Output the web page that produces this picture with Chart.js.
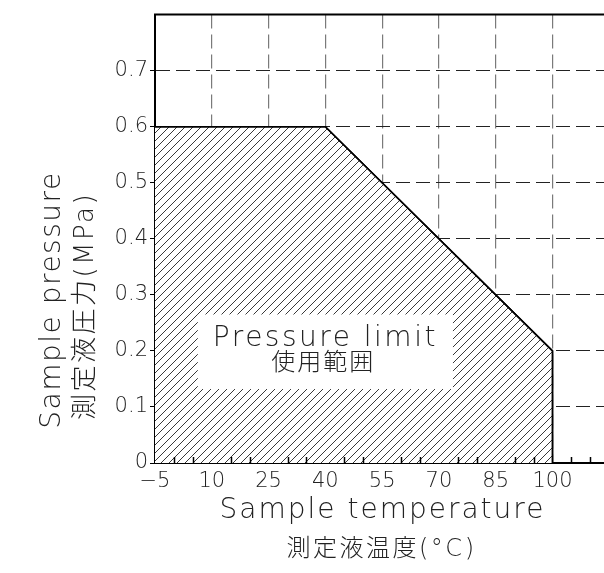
<!DOCTYPE html>
<html>
<head>
<meta charset="utf-8">
<script src="https://cdn.jsdelivr.net/npm/chart.js@4.4.1/dist/chart.umd.min.js"></script>
<style>
    html, body { margin: 0; padding: 0; background: #fff; overflow: hidden; }
    #wrap { width: 604px; height: 573px; }
</style>
</head>
<body>
<div id="wrap"><canvas id="limit-chart" width="604" height="573"></canvas></div>
<script>
// Pressure limit envelope (temperature °C -> pressure MPa)
const limitTemp = [-5, 40, 100, 100];
const limitPressure = [0.6, 0.6, 0.2, 0];

const xTicks = [-5, 10, 25, 40, 55, 70, 85, 100];
const xTickLabels = ["\u22125", "10", "25", "40", "55", "70", "85", "100"];
const xMinorTicks = [0, 5, 15, 20, 30, 35, 45, 50, 60, 65, 75, 80, 90, 95, 105, 110];
const yTicks = [0, 0.1, 0.2, 0.3, 0.4, 0.5, 0.6, 0.7];
const yTickLabels = ["0", "0.1", "0.2", "0.3", "0.4", "0.5", "0.6", "0.7"];

// white label box, in data units
const labelBox = { xMin: 6.3, xMax: 73.7, yMin: 0.132, yMax: 0.265 };

const LATIN = '"DejaVu Sans", sans-serif';
const MIXED = '"DejaVu Sans", "Noto Sans CJK JP", sans-serif';
const TEXT_COLOR = "#222";

function makeHatch() {
    const n = 8;
    const p = document.createElement("canvas");
    p.width = n;
    p.height = n;
    const g = p.getContext("2d");
    g.fillStyle = "#fff";
    g.fillRect(0, 0, n, n);
    g.strokeStyle = "#222";
    g.lineWidth = 0.9;
    g.beginPath();
    g.moveTo(0, n); g.lineTo(n, 0);
    g.moveTo(-1, 1); g.lineTo(1, -1);
    g.moveTo(n - 1, n + 1); g.lineTo(n + 1, n - 1);
    g.stroke();
    return g.createPattern(p, "repeat");
}

function drawText(ctx, text, x, y, font, spacing, baseline, rotate) {
    ctx.save();
    ctx.translate(x, y);
    if (rotate) ctx.rotate(-Math.PI / 2);
    ctx.font = font;
    ctx.letterSpacing = spacing + "px";
    ctx.fillStyle = TEXT_COLOR;
    ctx.textAlign = "center";
    ctx.textBaseline = baseline;
    ctx.fillText(text, 0, 0);
    ctx.restore();
}

const extras = {
    id: "extras",
    afterDraw(chart) {
        const ctx = chart.ctx;
        const xs = chart.scales.x;
        const ys = chart.scales.y;
        const area = chart.chartArea;

        // label box covering hatch and grid
        const bx0 = xs.getPixelForValue(labelBox.xMin);
        const bx1 = xs.getPixelForValue(labelBox.xMax);
        const by0 = ys.getPixelForValue(labelBox.yMax);
        const by1 = ys.getPixelForValue(labelBox.yMin);
        ctx.save();
        ctx.fillStyle = "#fff";
        ctx.fillRect(bx0, by0, bx1 - bx0, by1 - by0);
        ctx.restore();
        const bcx = (bx0 + bx1) / 2;
        drawText(ctx, "Pressure limit", bcx, by0 + 32, "200 28px " + LATIN, 2.5, "alphabetic");
        drawText(ctx, "使用範囲", bcx - 2, by0 + 49, "200 24px " + MIXED, 2, "middle");

        // outline on top of the grid
        chart.getDatasetMeta(0).dataset.draw(ctx, area);

        // minor ticks pointing inward on the bottom axis
        ctx.save();
        ctx.strokeStyle = "#000";
        ctx.lineWidth = 1.5;
        ctx.beginPath();
        xMinorTicks.forEach(v => {
            const px = Math.round(xs.getPixelForValue(v)) + 0.5;
            ctx.moveTo(px, area.bottom);
            ctx.lineTo(px, area.bottom - 6);
        });
        ctx.stroke();

        // top frame line
        ctx.lineWidth = 2;
        ctx.beginPath();
        ctx.moveTo(area.left - 1, area.top);
        ctx.lineTo(area.right, area.top);
        ctx.stroke();
        ctx.restore();

        // axis titles
        const cx = (area.left + area.right) / 2;
        drawText(ctx, "Sample temperature", cx + 3, 518, "200 28px " + LATIN, 2, "alphabetic");
        drawText(ctx, "測定液温度(°C)", cx + 2, 550, "200 24px " + MIXED, 2.5, "middle");
        drawText(ctx, "Sample pressure", 60, 300, "200 28px " + LATIN, 1.5, "alphabetic", true);
        drawText(ctx, "測定液圧力(MPa)", 86, 306, "200 26px " + MIXED, 2.5, "middle", true);
    },
};

function buildChart() {
    const ctx = document.getElementById("limit-chart").getContext("2d");
    const points = limitTemp.map((t, i) => ({ x: t, y: limitPressure[i] }));

    new Chart(ctx, {
        type: "line",
        data: {
            datasets: [
                {
                    data: points,
                    borderColor: "#000",
                    borderWidth: 1.5,
                    backgroundColor: makeHatch(),
                    fill: "origin",
                    pointRadius: 0,
                    tension: 0,
                },
            ],
        },
        options: {
            responsive: false,
            animation: false,
            devicePixelRatio: 1,
            layout: { padding: { top: 10, right: 0, bottom: 0, left: 0 } },
            plugins: {
                legend: { display: false },
                tooltip: { enabled: false },
            },
            scales: {
                x: {
                    type: "linear",
                    min: -5,
                    max: 113.6,
                    z: 1,
                    afterBuildTicks: s => { s.ticks = xTicks.map(v => ({ value: v })); },
                    afterFit: s => { s.height = 110; },
                    ticks: {
                        autoSkip: false,
                        maxRotation: 0,
                        padding: 6,
                        color: TEXT_COLOR,
                        font: { family: LATIN, size: 21, weight: 200 },
                        callback: (v, i) => xTickLabels[i],
                    },
                    grid: {
                        color: c => (c.tick && c.tick.value === -5 ? "rgba(0,0,0,0)" : "#7a7a7a"),
                        lineWidth: 1.2,
                        drawTicks: false,
                    },
                    border: { color: "#000", width: 2, dash: [14, 6] },
                },
                y: {
                    type: "linear",
                    min: 0,
                    max: 0.8,
                    z: 1,
                    afterBuildTicks: s => { s.ticks = yTicks.map(v => ({ value: v })); },
                    afterFit: s => { s.width = 155; },
                    ticks: {
                        padding: 2,
                        color: TEXT_COLOR,
                        font: { family: LATIN, size: 21, weight: 200 },
                        callback: (v, i) => yTickLabels[i],
                    },
                    grid: {
                        color: c => (c.tick && c.tick.value === 0 ? "rgba(0,0,0,0)" : "#222"),
                        tickColor: "#000",
                        lineWidth: 1,
                        tickLength: 5,
                    },
                    border: { color: "#000", width: 2, dash: [14, 6] },
                },
            },
        },
        plugins: [extras],
    });
}

document.addEventListener("DOMContentLoaded", () => {
    buildChart();
});
</script>
</body>
</html>
